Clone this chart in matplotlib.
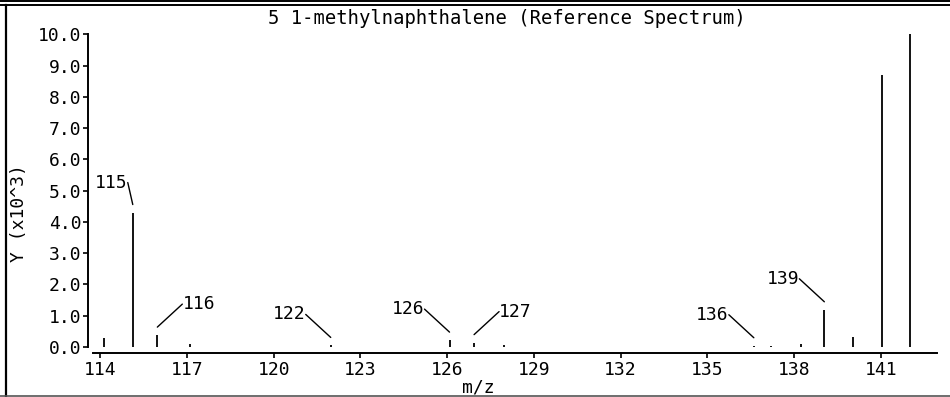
import matplotlib
matplotlib.use("Agg")
import matplotlib.pyplot as plt
from matplotlib.lines import Line2D
from matplotlib.transforms import offset_copy

# ---- data ----
mz = [114.12, 115.12, 115.97, 117.10, 121.97, 126.08, 126.93, 127.95,
      136.61, 137.20, 138.25, 139.05, 140.04, 141.03, 142.00]
intensity = [0.28, 4.30, 0.38, 0.09, 0.05, 0.22, 0.14, 0.05,
             0.04, 0.04, 0.10, 1.19, 0.33, 8.69, 10.00]   # x10^3

label_text = ["115", "116", "122", "126", "127", "136", "139"]
label_peak = [1, 2, 4, 5, 6, 8, 11]                 # index into mz
label_side = ["left", "right", "left", "left", "right", "left", "left"]

x_ticks = [114, 117, 120, 123, 126, 129, 132, 135, 138, 141]
y_ticks = [0, 1, 2, 3, 4, 5, 6, 7, 8, 9, 10]

title = "5 1-methylnaphthalene (Reference Spectrum)"
xlabel = "m/z"
ylabel = "Y (x10^3)"

# ---- style ----
FONT = "DejaVu Sans Mono"
FS = 13
plt.rcParams["font.family"] = FONT

W, H = 950, 397
fig = plt.figure(figsize=(W / 100, H / 100), dpi=100)
fig.patch.set_facecolor("white")

ax_left, ax_right, ax_top, ax_bottom = 88, 937, 34.3, 353
ax = fig.add_axes([ax_left / W, (H - ax_bottom) / H,
                   (ax_right - ax_left) / W, (ax_bottom - ax_top) / H])
ax.set_facecolor("none")

ax.vlines(mz, 0, intensity, colors="black", linewidth=1.3)

ax.set_xlim(113.571, 142.948)
ax.set_ylim(-0.192, 10.0)

for s in ("top", "right"):
    ax.spines[s].set_visible(False)
ax.spines["left"].set_bounds(0, 10)
ax.spines["bottom"].set_bounds(113.744, 142.948)
for s in ("left", "bottom"):
    ax.spines[s].set_linewidth(1.4)

ax.set_xticks(x_ticks)
ax.set_xticklabels([str(v) for v in x_ticks])
ax.set_yticks(y_ticks)
ax.set_yticklabels([f"{v:.1f}" for v in y_ticks])
ax.tick_params(axis="both", direction="out", length=3.5, width=1.2,
               labelsize=FS, colors="black")
ax.tick_params(axis="y", pad=1)
ax.tick_params(axis="x", pad=2)

# peak labels with leader lines
end_tr = offset_copy(ax.transData, fig=fig, x=0, y=8, units="dots")
for txt, idx, side in zip(label_text, label_peak, label_side):
    if txt == "115":
        dx, dy = -5, 30
    else:
        dx, dy = (-25 if side == "left" else 25), 31
    ha = "right" if side == "left" else "left"
    relx = 1.0 if side == "left" else 0.0
    ax.annotate(txt, xy=(mz[idx], intensity[idx]), xycoords=end_tr,
                xytext=(dx, dy - 8), textcoords="offset pixels",
                ha=ha, va="center", fontsize=FS, annotation_clip=False,
                arrowprops=dict(arrowstyle="-", lw=1.0, color="black",
                                shrinkA=0, shrinkB=0, patchA=None,
                                relpos=(relx, 0.5)))

# titles
fig.text(507 / W, 1 - 18 / H, title, ha="center", va="center", fontsize=13.6)
fig.text(478 / W, 1 - 388 / H, xlabel, ha="center", va="center", fontsize=FS)
fig.text(19 / W, 1 - 213 / H, ylabel, ha="center", va="center",
         rotation=90, fontsize=FS)

# frame lines
fig.add_artist(Line2D([0, 1], [1 - 0.8 / H, 1 - 0.8 / H], transform=fig.transFigure,
                      color="black", lw=1.4))
fig.add_artist(Line2D([0, 1], [1 - 5 / H, 1 - 5 / H], transform=fig.transFigure,
                      color="black", lw=1.4))
fig.add_artist(Line2D([5.5 / W, 5.5 / W], [1 - 5 / H, 1 - 396 / H],
                      transform=fig.transFigure, color="black", lw=1.6))
fig.add_artist(Line2D([0, 1], [1 - 396 / H, 1 - 396 / H], transform=fig.transFigure,
                      color="#555555", lw=1.2))

fig.savefig("out.png", dpi=100, facecolor="white")
